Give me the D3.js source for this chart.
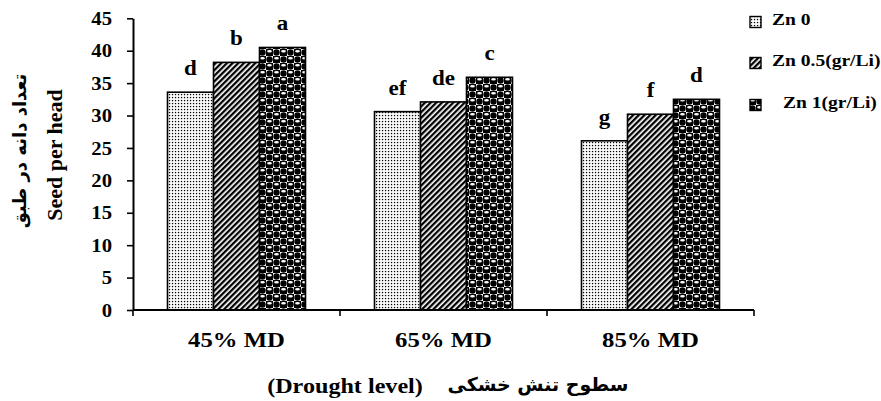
<!DOCTYPE html>
<html>
<head>
<meta charset="utf-8">
<script src="https://cdn.jsdelivr.net/npm/d3@7"></script>
<style>
  html, body { margin: 0; padding: 0; background: #fff; }
  svg { display: block; }
  .serif { font-family: "Liberation Serif", "Times New Roman", serif; font-weight: bold; }
  .fa { font-family: "DejaVu Sans", sans-serif; font-weight: bold; }
</style>
</head>
<body>
<svg id="chart" width="881" height="401"></svg>
<script>
// groups on the x axis
const groups = ["45% MD", "65% MD", "85% MD"];
// legend names
const series = ["Zn 0", "Zn 0.5(gr/Li)", "Zn 1(gr/Li)"];
// seed per head, one array per zinc level
const zn0 = [33.6, 30.6, 26.1];
const zn05 = [38.2, 32.1, 30.2];
const zn1 = [40.5, 35.9, 32.5];
// letters of mean comparison
const letters0 = ["d", "ef", "g"];
const letters05 = ["b", "de", "f"];
const letters1 = ["a", "c", "d"];
const yTicks = [0, 5, 10, 15, 20, 25, 30, 35, 40, 45];

const svg = d3.select("#chart");
const SX = 1.15; // the picture is a bit wider than the fonts

const plotLeft = 133, plotRight = 754, plotTop = 18.3, plotBottom = 310;

const x = d3.scaleBand().domain(groups).range([plotLeft, plotRight]);
const xSub = d3.scaleBand().domain(series).range([0, x.bandwidth()]).paddingOuter(0.75);
const y = d3.scaleLinear().domain([0, 45]).range([plotBottom, plotTop]);

// patterns
const defs = svg.append("defs");

const p0 = defs.append("pattern").attr("id", "pat0")
  .attr("patternUnits", "userSpaceOnUse").attr("width", 3).attr("height", 3);
p0.append("rect").attr("width", 3).attr("height", 3).attr("fill", "#fff");
p0.append("rect").attr("x", 0.9).attr("y", 0.9).attr("width", 1.3).attr("height", 1.3).attr("fill", "#000");

const p1 = defs.append("pattern").attr("id", "pat1")
  .attr("patternUnits", "userSpaceOnUse").attr("width", 4).attr("height", 4)
  .attr("patternTransform", "rotate(45)");
p1.append("rect").attr("width", 4).attr("height", 4).attr("fill", "#fff");
p1.append("rect").attr("width", 2.3).attr("height", 4).attr("fill", "#000");

const p2 = defs.append("pattern").attr("id", "pat2")
  .attr("patternUnits", "userSpaceOnUse").attr("width", 14).attr("height", 14);
p2.append("rect").attr("width", 14).attr("height", 14).attr("fill", "#fff");
p2.append("rect").attr("x", 7).attr("y", 0).attr("width", 7).attr("height", 7).attr("fill", "#000");
p2.append("rect").attr("x", 0).attr("y", 7).attr("width", 7).attr("height", 7).attr("fill", "#000");
[[3.5, 3.5], [10.5, 10.5]].forEach(c => {
  p2.append("circle").attr("cx", c[0]).attr("cy", c[1]).attr("r", 3.2).attr("fill", "#000");
});
[[10.5, 3.5], [3.5, 10.5]].forEach(c => {
  p2.append("ellipse").attr("cx", c[0]).attr("cy", c[1] - 1.2).attr("rx", 2.4).attr("ry", 1.3).attr("fill", "#fff");
});

const fills = ["url(#pat0)", "url(#pat1)", "url(#pat2)"];
const values = [zn0, zn05, zn1];
const letters = [letters0, letters05, letters1];

// helper to place stretched text
function putText(g, str, px, py, size, anchor, cls) {
  return g.append("text")
    .attr("class", cls || "serif")
    .attr("transform", `translate(${px},${py}) scale(${SX},1)`)
    .attr("text-anchor", anchor || "middle")
    .attr("font-size", size)
    .text(str);
}

// bars
const rows = [];
groups.forEach((g, i) => {
  series.forEach((s, j) => rows.push({ g, s, j, v: values[j][i], l: letters[j][i] }));
});

svg.append("g").selectAll("rect").data(rows).join("rect")
  .attr("x", d => x(d.g) + xSub(d.s))
  .attr("y", d => y(d.v))
  .attr("width", xSub.bandwidth())
  .attr("height", d => y(0) - y(d.v))
  .attr("fill", d => fills[d.j])
  .attr("stroke", "#000")
  .attr("stroke-width", 1.6);

const lab = svg.append("g");
rows.forEach(d => {
  putText(lab, d.l, x(d.g) + xSub(d.s) + xSub.bandwidth() / 2, y(d.v) - 17, 20);
});

// y axis
const yAxis = svg.append("g").attr("transform", `translate(${plotLeft},0)`)
  .call(d3.axisLeft(y).tickValues(yTicks).tickSize(6).tickSizeOuter(0).tickPadding(15));
yAxis.select(".domain").attr("stroke", "#000").attr("stroke-width", 2);
yAxis.selectAll(".tick line").attr("stroke", "#000").attr("stroke-width", 1.6);
yAxis.selectAll(".tick text")
  .attr("class", "serif")
  .attr("font-size", 18)
  .attr("fill", "#000")
  .attr("dy", "0.34em")
  .attr("transform", `translate(-21,0) scale(${SX},1)`)
  .attr("x", 0);

// x axis
const xg = svg.append("g");
xg.append("line").attr("x1", plotLeft).attr("x2", plotRight)
  .attr("y1", plotBottom).attr("y2", plotBottom)
  .attr("stroke", "#000").attr("stroke-width", 2);
const bounds = [x.range()[0]].concat(groups.map(g => x(g) + x.bandwidth()));
xg.selectAll(".bt").data(bounds).join("line")
  .attr("x1", d => d).attr("x2", d => d)
  .attr("y1", plotBottom).attr("y2", plotBottom + 6)
  .attr("stroke", "#000").attr("stroke-width", 1.6);
groups.forEach(g => putText(xg, g, x(g) + x.bandwidth() / 2, 347, 21.5));

// axis titles
putText(svg, "(Drought level)", 345, 393, 21);
svg.append("text").attr("class", "fa")
  .attr("x", 538).attr("y", 391)
  .attr("text-anchor", "middle").attr("font-size", 19)
  .attr("direction", "rtl")
  .text("سطوح تنش خشکی");

svg.append("text").attr("class", "serif")
  .attr("transform", "translate(62,155) rotate(-90)")
  .attr("text-anchor", "middle").attr("font-size", 22)
  .text("Seed per head");
svg.append("text").attr("class", "fa")
  .attr("transform", "translate(26,151) rotate(-90)")
  .attr("text-anchor", "middle").attr("font-size", 18)
  .text("تعداد دانه در طبق");

// legend
const legY = [25, 66, 108];
const legX = [772, 772, 783];
const leg = svg.append("g");
series.forEach((s, j) => {
  leg.append("rect")
    .attr("x", 750).attr("y", legY[j] - 8.5)
    .attr("width", 11).attr("height", 11)
    .attr("fill", fills[j]).attr("stroke", "#000").attr("stroke-width", 1.4);
  putText(leg, s, legX[j], legY[j], 17, "start");
});
</script>
</body>
</html>
